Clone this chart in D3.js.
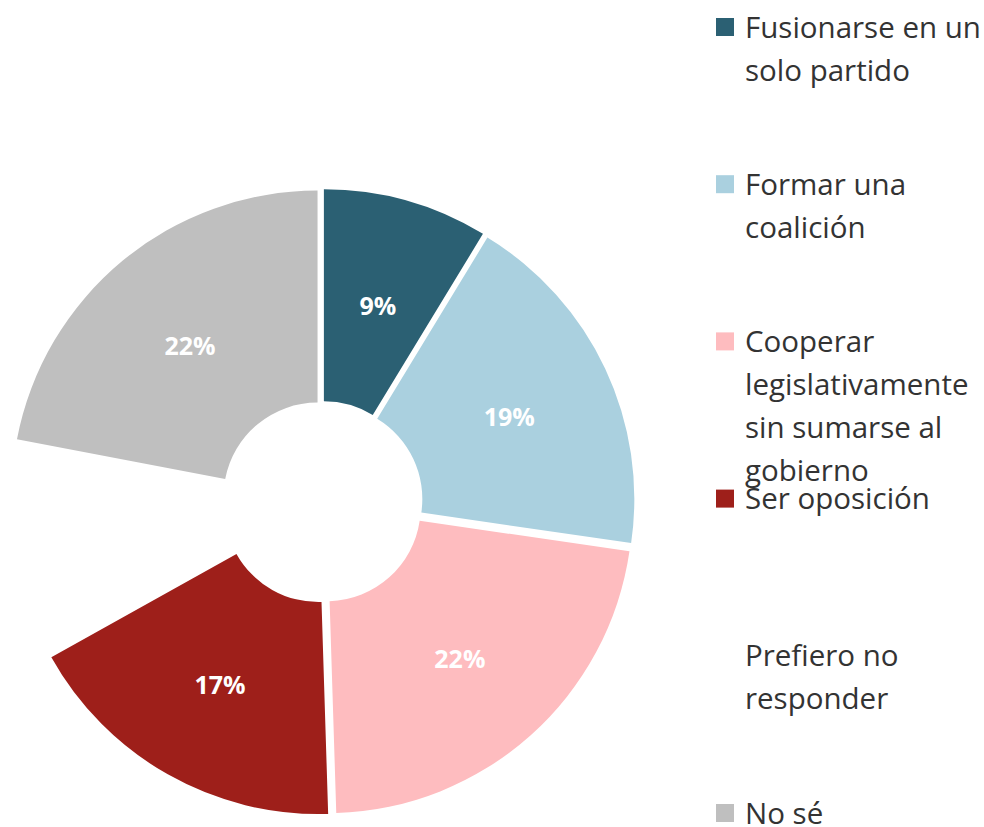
<!DOCTYPE html>
<html>
<head>
<meta charset="utf-8">
<script src="https://cdn.jsdelivr.net/npm/d3@7"></script>
<style>
  body { margin: 0; background: #fff; }
  svg { display: block; font-family: "Open Sans", "Noto Sans", sans-serif; }
</style>
</head>
<body>
<script>
var categories = ["Fusionarse en un solo partido", "Formar una coalición",
    "Cooperar legislativamente sin sumarse al gobierno", "Ser oposición",
    "Prefiero no responder", "No sé"];
var values = [8.7, 18.6, 22.2, 17.4, 11.1, 22.0];
var colors = ["#2b6073", "#aad0df", "#febcbf", "#9e1f1a", "#ffffff", "#bfbfbf"];

var width = 984,
    height = 827,
    center = [322, 502],
    outerR = 306,
    innerR = 94,
    explode = 7;

var svg = d3.select("body").append("svg")
    .attr("width", width)
    .attr("height", height);

var pie = d3.pie().sort(null).value(function (d) { return d.value; });
var arc = d3.arc().innerRadius(innerR).outerRadius(outerR);

var data = categories.map(function (c, i) {
    return { name: c, value: values[i], color: colors[i] };
});
var arcs = pie(data);

function offset(d) {
    var a = (d.startAngle + d.endAngle) / 2;
    return [Math.sin(a) * explode, -Math.cos(a) * explode];
}

var g = svg.append("g")
    .attr("transform", "translate(" + center[0] + "," + center[1] + ")");

var slice = g.selectAll("g.slice")
    .data(arcs)
    .enter().append("g")
    .attr("class", "slice")
    .attr("transform", function (d) {
        var o = offset(d);
        return "translate(" + o[0] + "," + o[1] + ")";
    });

slice.append("path")
    .attr("d", arc)
    .attr("fill", function (d) { return d.data.color; });

// percentage labels (the white slice has no visible label)
slice.filter(function (d) { return d.data.color !== "#ffffff"; })
    .append("text")
    .attr("transform", function (d) { return "translate(" + arc.centroid(d) + ")"; })
    .attr("text-anchor", "middle")
    .attr("dy", "0.48em")
    .style("fill", "#fff")
    .style("font-size", "25px")
    .style("font-weight", "bold")
    .text(function (d) { return Math.round(d.data.value) + "%"; });

// legend
var legendX = 716,
    legendY = 27,
    slot = 157.2,
    lineH = 43,
    textX = 29,
    maxW = 984 - 745;

var legend = svg.selectAll("g.legend")
    .data(data)
    .enter().append("g")
    .attr("class", "legend")
    .attr("transform", function (d, i) {
        return "translate(" + legendX + "," + (legendY + i * slot) + ")";
    });

legend.append("rect")
    .attr("x", 0)
    .attr("y", -9)
    .attr("width", 18)
    .attr("height", 18)
    .attr("fill", function (d) { return d.color; });

legend.each(function (d) {
    var text = d3.select(this).append("text")
        .style("fill", "#333")
        .style("font-size", "29.5px");
    var words = d.name.split(" "),
        line = [],
        n = 0;
    function newLine() {
        return text.append("tspan")
            .attr("x", textX)
            .attr("y", n * lineH)
            .attr("dy", "0.36em");
    }
    var tspan = newLine();
    words.forEach(function (w) {
        line.push(w);
        tspan.text(line.join(" "));
        if (tspan.node().getComputedTextLength() > maxW && line.length > 1) {
            line.pop();
            tspan.text(line.join(" "));
            line = [w];
            n++;
            tspan = newLine().text(w);
        }
    });
});
</script>
</body>
</html>
